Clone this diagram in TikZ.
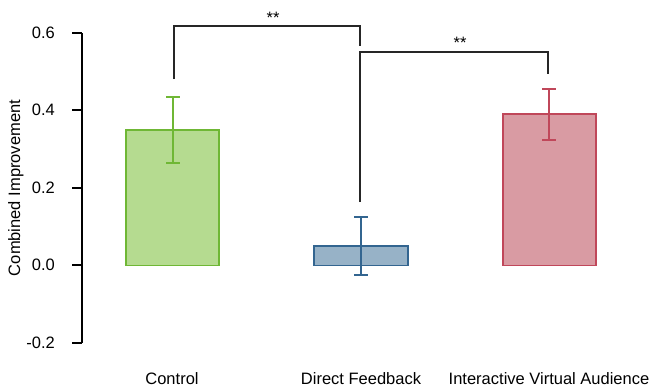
\documentclass[tikz,border=0pt]{standalone}
\usepackage{fontspec}
\setmainfont{Liberation Sans}
\definecolor{ctrlfill}{HTML}{B5DB90}
\definecolor{ctrlline}{HTML}{6FB735}
\definecolor{dffill}{HTML}{97B2C7}
\definecolor{dfline}{HTML}{336590}
\definecolor{ivafill}{HTML}{D99BA3}
\definecolor{ivaline}{HTML}{C0475A}
\tikzset{
  lbl/.style={font=\fontsize{16.5}{18}\selectfont, inner sep=0pt},
  ticklbl/.style={lbl, anchor=east},
  catlbl/.style={lbl, anchor=base},
  star/.style={lbl, anchor=base},
  axisline/.style={line width=1.3pt, black},
  bracket/.style={line width=1.3pt, black!85},
  barbox/.style={line width=1.1pt},
  errbar/.style={line width=1.2pt},
}
\begin{document}
\begin{tikzpicture}[x=1pt, y=-1pt]
  \useasboundingbox (0,0) rectangle (652,391);

  % y axis with ticks
  \draw[axisline] (82,33) -- (82,343);
  \foreach \yy/\txt/\nm in {33/0.6/t6, 110/0.4/t4, 188/0.2/t2, 265/0.0/t0, 343/-0.2/tm2} {
    \draw[axisline] (72,\yy) -- (82,\yy);
    \node[ticklbl] (\nm) at (55,\yy) {\txt};
  }
  \node[lbl, rotate=90, anchor=base] (ylab) at (20,188) {Combined Improvement};

  % bars
  \draw[barbox, draw=ctrlline, fill=ctrlfill] (126,265.5) rectangle (219,130);
  \draw[barbox, draw=dfline, fill=dffill] (314,265.5) rectangle (408,246);
  \draw[barbox, draw=ivaline, fill=ivafill] (503,265.5) rectangle (596,114);

  % error bars
  \draw[errbar, draw=ctrlline] (173,97) -- (173,163) (166,97) -- (180,97) (166,163) -- (180,163);
  \draw[errbar, draw=dfline] (361,217) -- (361,275) (354,217) -- (368,217) (354,275) -- (368,275);
  \draw[errbar, draw=ivaline] (549,89) -- (549,140) (542,89) -- (556,89) (542,140) -- (556,140);

  % significance brackets
  \coordinate (b1a) at (174,79);
  \coordinate (b1b) at (360,46);
  \coordinate (b2a) at (360,202);
  \coordinate (b2b) at (548,74);
  \draw[bracket] (b1a) |- (174,26) -| (b1b);
  \draw[bracket] (b2a) |- (360,52) -| (b2b);
  \node[star] (s1) at (273,23) {**};
  \node[star] (s2) at (460,48) {**};

  % category labels
  \node[catlbl] (cControl) at (172,384) {Control};
  \node[catlbl] (cDF) at (361,384) {Direct Feedback};
  \node[catlbl] (cIVA) at (549,384) {Interactive Virtual Audience};
\end{tikzpicture}
\end{document}
